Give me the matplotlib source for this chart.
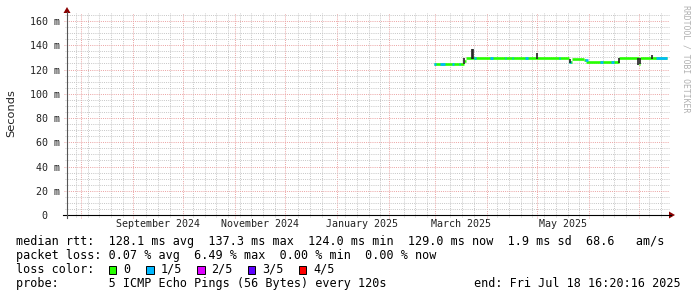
import numpy as np
import pandas as pd
import matplotlib
matplotlib.use('Agg')
import matplotlib.pyplot as plt
from matplotlib.lines import Line2D
from matplotlib.patches import Rectangle, Polygon

W, H = 697, 297
MONO = 'DejaVu Sans Mono'

end_time = pd.Timestamp('2025-07-18 16:20:16')
start_time = end_time - pd.Timedelta(days=360)

# median rtt in ms, held from each date until the next one
med_dates = ['2025-02-28', '2025-03-18', '2025-03-19', '2025-05-20', '2025-05-21 12:00',
             '2025-05-29', '2025-05-30', '2025-06-18 12:00', '2025-06-30 12:00',
             '2025-07-01 06:00', '2025-07-17 12:00']
med_values = [124.8, 127.0, 129.2, 126.0, 129.0, 127.6, 126.2, 129.2, 124.3, 129.1, 129.0]

# periods with 1/5 packet loss
loss1_start = ['2025-02-28 06:00', '2025-03-04 00:00', '2025-03-11 00:00', '2025-03-15 00:00',
               '2025-03-24 00:00', '2025-04-02 18:00', '2025-04-11 18:00', '2025-04-15 18:00',
               '2025-04-23 18:00', '2025-05-13 18:00', '2025-05-20 00:00', '2025-05-29 12:00',
               '2025-06-07 12:00', '2025-06-13 18:00', '2025-06-30 12:00', '2025-07-11 00:00']
loss1_end = ['2025-03-01 06:00', '2025-03-07 00:00', '2025-03-11 22:00', '2025-03-15 18:00',
             '2025-03-25 12:00', '2025-04-04 12:00', '2025-04-12 12:00', '2025-04-16 12:00',
             '2025-04-25 06:00', '2025-05-14 06:00', '2025-05-21 00:00', '2025-05-31 06:00',
             '2025-06-09 06:00', '2025-06-15 18:00', '2025-06-30 22:00', '2025-07-17 12:00']

# dark smoke (rtt spread) spikes: date, low, high
smoke_dates = ['2025-03-18', '2025-03-22 20:00', '2025-03-23 08:00', '2025-04-30 12:00',
               '2025-05-20 12:00', '2025-06-18 12:00', '2025-06-30 10:00', '2025-07-01 14:00',
               '2025-07-08 06:00']
smoke_low = [124.8, 129.0, 129.0, 129.0, 125.5, 125.0, 123.8, 124.6, 129.0]
smoke_high = [129.2, 137.3, 136.5, 133.6, 129.0, 129.6, 129.2, 129.2, 131.6]

y_ticks = [0, 20, 40, 60, 80, 100, 120, 140, 160]
y_labels = ['0  ', '20 m', '40 m', '60 m', '80 m', '100 m', '120 m', '140 m', '160 m']
x_label_dates = ['2024-09-16', '2024-11-16', '2025-01-16', '2025-03-16', '2025-05-16']
x_labels = ['September 2024', 'November 2024', 'January 2025', 'March 2025', 'May 2025']

loss_names = ['0', '1/5', '2/5', '3/5', '4/5']
loss_colors = ['#26ff00', '#00b8ff', '#dd00ff', '#5e00ff', '#ff0000']

GREEN, BLUE = loss_colors[0], loss_colors[1]


def to_dt(vals):
    return pd.to_datetime(vals, format='mixed')


def fx(x):
    return x / W


def fy(y):
    return 1 - y / H


fig = plt.figure(figsize=(W / 100, H / 100), dpi=100)
fig.patch.set_facecolor('white')
ax = fig.add_axes([fx(67), fy(215), 602 / W, 202 / H])
ax.set_xlim(start_time, end_time)
ax.set_ylim(0, 166.6)
for s in ax.spines.values():
    s.set_visible(False)

# grid, drawn by hand so it pokes out past the axes like rrdtool
dot = (0, (1, 1.2))
gkw = dict(lw=0.7, ls=dot, clip_on=False, zorder=1)
months = pd.date_range(start_time.normalize(), end_time, freq='MS')
for d in pd.date_range(start_time.normalize(), end_time, freq='W-MON'):
    if np.min(np.abs((months - d).days)) < 3:
        continue
    ax.axvline(d, ymin=-2 / 202, ymax=1, color='#c6c6c6', **gkw)
for d in months:
    ax.axvline(d, ymin=-3 / 202, ymax=1, color='#eba2a2', **gkw)
for v in np.arange(0, 167, 5):
    if v % 20:
        ax.axhline(v, xmin=-2 / 602, xmax=1, color='#c6c6c6', **gkw)
for v in y_ticks[1:]:
    ax.axhline(v, xmin=-3 / 602, xmax=1, color='#eba2a2', **gkw)

ax.set_yticks(y_ticks)
ax.set_yticklabels(y_labels, family=MONO, fontsize=7.2, color='#222222')
ax.set_xticks(to_dt(x_label_dates))
ax.set_xticklabels(x_labels, family=MONO, fontsize=7.2, color='#222222')
ax.tick_params(axis='both', length=0)
ax.tick_params(axis='y', pad=7 * 0.72)
ax.tick_params(axis='x', pad=3)

# median line coloured by loss
md = to_dt(med_dates)
ax.hlines(med_values[:-1], md[:-1], md[1:], color=GREEN, lw=1.9, zorder=3)
for s, e in zip(to_dt(loss1_start), to_dt(loss1_end)):
    i = np.searchsorted(md, s, side='right') - 1
    ax.hlines(med_values[i], s, e, color=BLUE, lw=1.9, zorder=4)
ax.vlines(to_dt(smoke_dates), smoke_low, smoke_high, color='#222222', lw=1.2, zorder=5)

# axes with arrows
fig.add_artist(Line2D([fx(63), fx(671)], [fy(215), fy(215)], color='black', lw=0.8))
fig.add_artist(Line2D([fx(67), fx(67)], [fy(218), fy(12)], color='#555555', lw=0.8))
fig.add_artist(Polygon([[fx(669), fy(211.5)], [fx(675), fy(215)], [fx(669), fy(218.5)]],
                       closed=True, color='#8b0000', lw=0))
fig.add_artist(Polygon([[fx(63.5), fy(13)], [fx(67), fy(7)], [fx(70.5), fy(13)]],
                       closed=True, color='#8b0000', lw=0))

fig.text(fx(11), fy(113), 'Seconds', rotation=90, ha='center', va='center',
         fontsize=8.2, family='DejaVu Sans', color='#222222')
fig.text(fx(686), fy(5), 'RRDTOOL / TOBI OETIKER', rotation=270, ha='center', va='top',
         fontsize=5.9, family=MONO, color='#b0b0b0')

# legend block
tx = dict(family=MONO, fontsize=8.5, color='black', va='baseline', ha='left')
fig.text(fx(16), fy(245), 'median rtt:  128.1 ms avg  137.3 ms max  124.0 ms min  '
         '129.0 ms now  1.9 ms sd  68.6   am/s', **tx)
fig.text(fx(16), fy(259), 'packet loss: 0.07 % avg  6.49 % max  0.00 % min  0.00 % now', **tx)
fig.text(fx(16), fy(273), 'loss color:', **tx)
box_x = [108.5, 146, 197, 247.5, 298.5]
for bx, name, col in zip(box_x, loss_names, loss_colors):
    fig.add_artist(Rectangle((fx(bx), fy(273.5)), 7.5 / W, 7.5 / H, facecolor=col,
                             edgecolor='black', lw=0.7))
    fig.text(fx(bx + 14.5), fy(273), name, **tx)
fig.text(fx(16), fy(287), 'probe:       5 ICMP Echo Pings (56 Bytes) every 120s', **tx)
fig.text(fx(681), fy(287), 'end: Fri Jul 18 16:20:16 2025', **dict(tx, ha='right'))

fig.savefig('out.png', dpi=100)
